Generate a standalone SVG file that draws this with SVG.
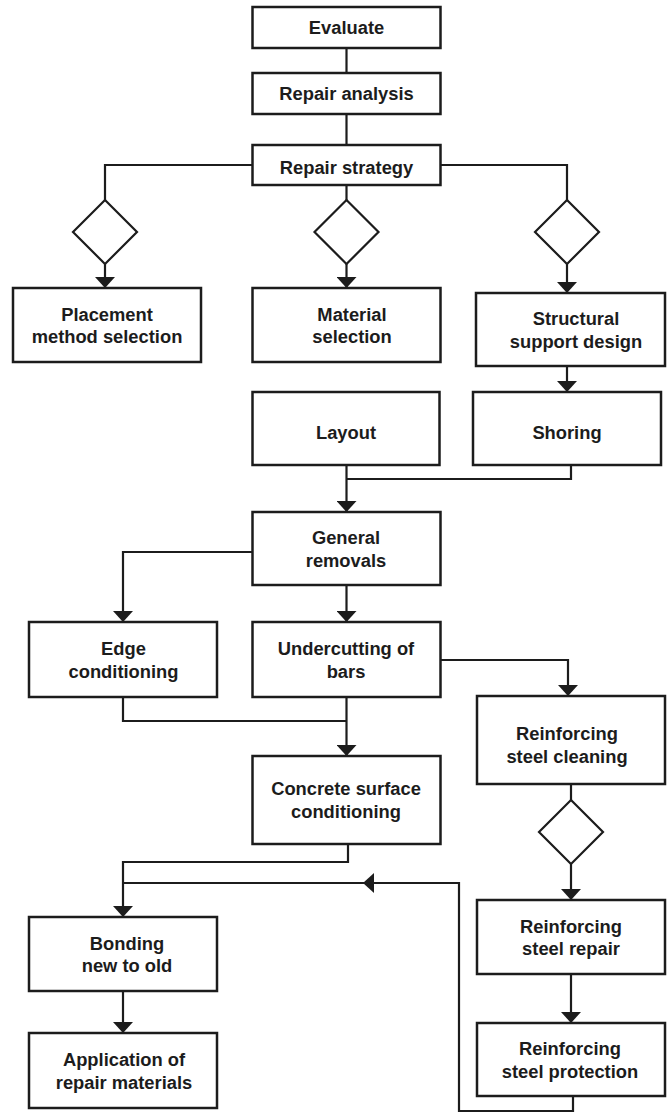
<svg xmlns="http://www.w3.org/2000/svg" width="671" height="1112" viewBox="0 0 671 1112">
  <style>
    .box { fill: #ffffff; stroke: #1c1c1c; stroke-width: 2.5; }
    .dia { fill: #ffffff; stroke: #1c1c1c; stroke-width: 2.2; }
    .wire { fill: none; stroke: #1c1c1c; stroke-width: 2.2; stroke-linejoin: miter; }
    .lbl { font-family: "Liberation Sans", Arial, Helvetica, sans-serif; font-weight: bold; font-size: 19px; fill: #1c1c1c; text-anchor: middle;
           transform-box: fill-box; transform-origin: center; transform: scaleX(0.965); }
  </style>
  <defs>
    <marker id="arrow" markerUnits="userSpaceOnUse" viewBox="0 0 11 20" markerWidth="11" markerHeight="20" refX="11" refY="10" orient="auto">
      <polygon points="0,0 11,10 0,20" fill="#1c1c1c"/>
    </marker>
  </defs>
  <rect width="671" height="1112" fill="#ffffff"/>

  <!-- connectors -->
  <g id="connectors">
    <path class="wire" d="M346.5 48 V73"/>
    <path class="wire" d="M346.5 114 V145"/>
    <path class="wire" d="M252.5 165 H105 V200"/>
    <path class="wire" d="M346.5 185 V200"/>
    <path class="wire" d="M440.5 165 H567 V200"/>
    <path class="wire" d="M105 264 V288" marker-end="url(#arrow)"/>
    <path class="wire" d="M346.5 264 V288" marker-end="url(#arrow)"/>
    <path class="wire" d="M567 264 V293" marker-end="url(#arrow)"/>
    <path class="wire" d="M567 366 V392" marker-end="url(#arrow)"/>
    <path class="wire" d="M571 465 V479 H346.5"/>
    <path class="wire" d="M346.5 465 V512" marker-end="url(#arrow)"/>
    <path class="wire" d="M252.5 552 H123 V622" marker-end="url(#arrow)"/>
    <path class="wire" d="M346.5 585 V622" marker-end="url(#arrow)"/>
    <path class="wire" d="M440.5 660 H568 V696" marker-end="url(#arrow)"/>
    <path class="wire" d="M123 697 V721 H346.5"/>
    <path class="wire" d="M346.5 697 V756" marker-end="url(#arrow)"/>
    <path class="wire" d="M348 844 V862 H123 V917" marker-end="url(#arrow)"/>
    <path class="wire" d="M571 784 V800"/>
    <path class="wire" d="M571 864 V900" marker-end="url(#arrow)"/>
    <path class="wire" d="M571 974 V1023" marker-end="url(#arrow)"/>
    <path class="wire" d="M123 991 V1033" marker-end="url(#arrow)"/>
    <!-- return path from steel protection back to the bonding branch -->
    <path class="wire" d="M573 1096 V1111 H459 V883 H363" marker-end="url(#arrow)"/>
    <path class="wire" d="M364 883 H123"/>
  </g>

  <!-- decision diamonds -->
  <g id="decision-placement"><polygon class="dia" points="105,200 137,232 105,264 73,232"/></g>
  <g id="decision-material"><polygon class="dia" points="346.5,200 378.5,232 346.5,264 314.5,232"/></g>
  <g id="decision-structural"><polygon class="dia" points="567,200 599,232 567,264 535,232"/></g>
  <g id="decision-steel"><polygon class="dia" points="571,800 603,832 571,864 539,832"/></g>

  <!-- process boxes -->
  <g id="evaluate">
    <rect class="box" x="252.5" y="7" width="188" height="41"/>
    <text class="lbl" x="346.5" y="34.5">Evaluate</text>
  </g>
  <g id="repair-analysis">
    <rect class="box" x="252.5" y="73" width="188" height="41"/>
    <text class="lbl" x="346.5" y="100.3">Repair analysis</text>
  </g>
  <g id="repair-strategy">
    <rect class="box" x="252.5" y="145" width="188" height="40"/>
    <text class="lbl" x="346.5" y="174.5">Repair strategy</text>
  </g>
  <g id="placement-method">
    <rect class="box" x="13" y="288" width="188" height="74"/>
    <text class="lbl" x="107" y="320.7">Placement</text>
    <text class="lbl" x="107" y="343.3">method selection</text>
  </g>
  <g id="material-selection">
    <rect class="box" x="252.5" y="288" width="188" height="74"/>
    <text class="lbl" x="352" y="320.7">Material</text>
    <text class="lbl" x="352" y="343.3">selection</text>
  </g>
  <g id="structural-support">
    <rect class="box" x="476" y="293" width="189" height="73"/>
    <text class="lbl" x="576" y="325.2">Structural</text>
    <text class="lbl" x="576" y="347.8">support design</text>
  </g>
  <g id="layout">
    <rect class="box" x="252.5" y="392" width="187" height="73"/>
    <text class="lbl" x="346" y="439">Layout</text>
  </g>
  <g id="shoring">
    <rect class="box" x="473" y="392" width="188" height="73"/>
    <text class="lbl" x="567" y="439">Shoring</text>
  </g>
  <g id="general-removals">
    <rect class="box" x="252.5" y="512" width="188" height="73"/>
    <text class="lbl" x="346" y="544.2">General</text>
    <text class="lbl" x="346" y="566.8">removals</text>
  </g>
  <g id="edge-conditioning">
    <rect class="box" x="29" y="622" width="188" height="75"/>
    <text class="lbl" x="123.5" y="655.2">Edge</text>
    <text class="lbl" x="123.5" y="677.8">conditioning</text>
  </g>
  <g id="undercutting">
    <rect class="box" x="252.5" y="622" width="188" height="75"/>
    <text class="lbl" x="346" y="655.2">Undercutting of</text>
    <text class="lbl" x="346" y="677.8">bars</text>
  </g>
  <g id="steel-cleaning">
    <rect class="box" x="477" y="696" width="188" height="88"/>
    <text class="lbl" x="567" y="740.2">Reinforcing</text>
    <text class="lbl" x="567" y="762.8">steel cleaning</text>
  </g>
  <g id="concrete-surface">
    <rect class="box" x="252.5" y="756" width="188" height="88"/>
    <text class="lbl" x="346" y="795.2">Concrete surface</text>
    <text class="lbl" x="346" y="817.8">conditioning</text>
  </g>
  <g id="bonding">
    <rect class="box" x="29" y="917" width="188" height="74"/>
    <text class="lbl" x="127" y="949.7">Bonding</text>
    <text class="lbl" x="127" y="972.3">new to old</text>
  </g>
  <g id="application">
    <rect class="box" x="29" y="1033" width="188" height="75"/>
    <text class="lbl" x="124" y="1066.2">Application of</text>
    <text class="lbl" x="124" y="1088.8">repair materials</text>
  </g>
  <g id="steel-repair">
    <rect class="box" x="477" y="900" width="188" height="74"/>
    <text class="lbl" x="571" y="932.7">Reinforcing</text>
    <text class="lbl" x="571" y="955.3">steel repair</text>
  </g>
  <g id="steel-protection">
    <rect class="box" x="477" y="1023" width="188" height="73"/>
    <text class="lbl" x="570" y="1055.2">Reinforcing</text>
    <text class="lbl" x="570" y="1077.8">steel protection</text>
  </g>
</svg>
